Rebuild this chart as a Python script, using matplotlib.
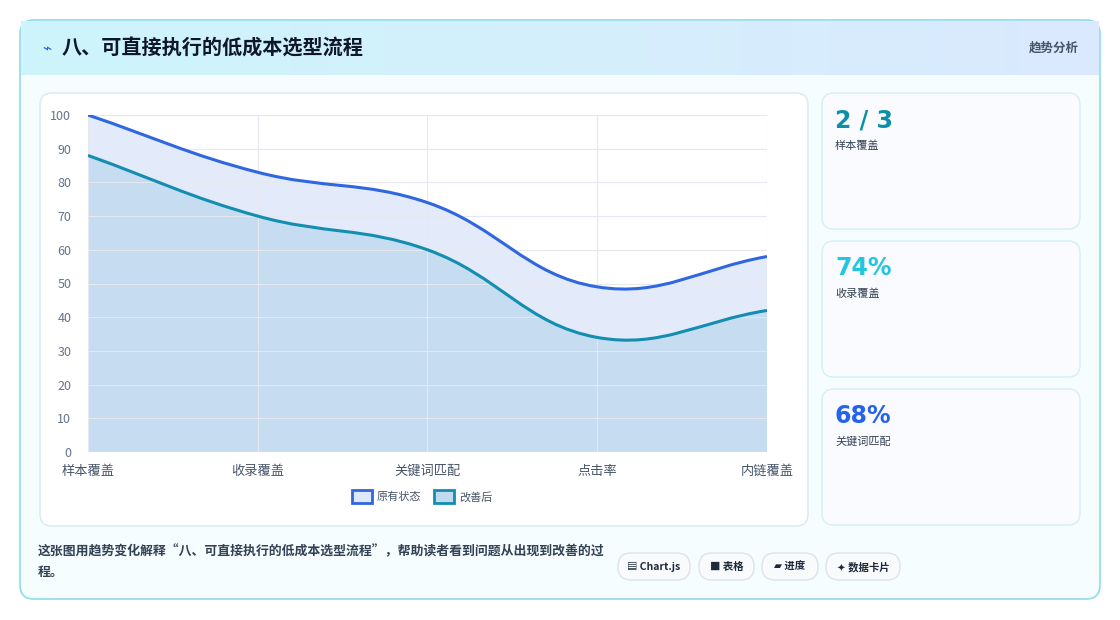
import numpy as np
import matplotlib

matplotlib.use("Agg")
import matplotlib.pyplot as plt
from matplotlib.patches import FancyBboxPatch, PathPatch, Rectangle
from matplotlib.path import Path
from matplotlib.colors import LinearSegmentedColormap

plt.rcParams["font.family"] = ["Noto Sans CJK SC", "DejaVu Sans"]

categories = ["样本覆盖", "收录覆盖", "关键词匹配", "点击率", "内链覆盖"]
before = [100, 83, 74, 49, 58]
after = [88, 70, 60, 34, 42]
card_values = ["2 / 3", "74%", "68%"]
card_labels = ["样本覆盖", "收录覆盖", "关键词匹配"]
card_colors = ["#0e8fa8", "#22c6e0", "#2563eb"]
tags = ["▤ Chart.js", "■ 表格", "▰ 进度", "✦ 数据卡片"]

W, H = 1120, 620
fig = plt.figure(figsize=(W / 100, H / 100), dpi=100)
bg = fig.add_axes([0, 0, 1, 1])
bg.set_xlim(0, W)
bg.set_ylim(H, 0)
bg.axis("off")


def rbox(x, y, w, h, r, fc, ec, lw=1, z=1):
    bg.add_patch(FancyBboxPatch((x, y), w, h, boxstyle=f"round,pad=0,rounding_size={r}",
                                fc=fc, ec=ec, lw=lw, zorder=z))


# outer panel with header gradient
rbox(20, 20, 1080, 579, 14, "#f6fdff", "#8fdcea", 1.2, 1)
grad = np.linspace(0, 1, 256)[None, :]
cm = LinearSegmentedColormap.from_list("h", ["#cdf5fb", "#dbe9fe"])
bg.imshow(grad, cmap=cm, extent=(21, 1099, 75, 21), aspect="auto", zorder=2)
bg.text(42, 49, "⌁", color="#2563eb", fontsize=11, va="center", zorder=3)
bg.text(62, 48, "八、可直接执行的低成本选型流程", fontsize=14.5, fontweight="bold",
        color="#0f172a", va="center", zorder=3)
bg.text(1079, 48, "趋势分析", fontsize=9, color="#475569", ha="right", va="center",
        fontweight="bold", zorder=3)

# chart card
rbox(40, 93, 768, 433, 12, "white", "#dbe7f0", 1, 2)
# stat cards
for i, (v, lab, c) in enumerate(zip(card_values, card_labels, card_colors)):
    y0 = 93 + i * 148
    rbox(822, y0, 258, 136, 12, "#fafbff", "#d6eef5", 1, 2)
    bg.text(835, y0 + 27, v, fontsize=17, fontweight="bold", color=c, va="center", zorder=3,
            family=["DejaVu Sans"])
    bg.text(835, y0 + 53, lab, fontsize=8, color="#334155", va="center", zorder=3)

# footer
bg.text(38, 551, "这张图用趋势变化解释“八、可直接执行的低成本选型流程”，帮助读者看到问题从出现到改善的过",
        fontsize=9.3, color="#334155", fontweight="bold", va="center", zorder=3)
bg.text(38, 572, "程。", fontsize=9.3, color="#334155", fontweight="bold", va="center", zorder=3)
xs = [618, 699, 762, 826]
ws = [72, 55, 56, 74]
for x, w, t in zip(xs, ws, tags):
    rbox(x, 553, w, 27, 13, "#f8fafc", "#dde3ea", 1, 2)
    bg.text(x + w / 2, 567, t, fontsize=7.5, ha="center", va="center", color="#1e293b",
            fontweight="bold", zorder=3)

# chart axes
ax = fig.add_axes([88 / W, 1 - 452 / H, 679 / W, 337 / H])
ax.set_zorder(5)
ax.patch.set_alpha(0)
ax.set_xlim(0, len(categories) - 1)
ax.set_ylim(0, 100)
ax.set_yticks(range(0, 101, 10))
ax.set_xticks(range(len(categories)))
ax.set_xticklabels(categories, fontsize=9.5, color="#475569")
ax.tick_params(axis="y", labelsize=9, colors="#64748b", length=0, pad=12)
ax.tick_params(axis="x", length=0, pad=9)
ax.grid(True, color="#e5e9ef", lw=0.8)
for s in ax.spines.values():
    s.set_visible(False)
ax.axhline(0, color="#cbd5e1", lw=0.8)


def smooth_path(ys, t=0.4):
    xs_ = np.arange(len(ys), dtype=float)
    sx = 1.0 / (len(ys) - 1)
    sy = 1.0 / 100 * 337 / 679
    pts = np.column_stack([xs_, np.array(ys, float)])
    n = len(pts)
    cps = []
    for i in range(n):
        p = pts[i]
        pp = pts[max(i - 1, 0)]
        pn = pts[min(i + 1, n - 1)]
        d01 = np.hypot((p[0] - pp[0]) * sx, (p[1] - pp[1]) * sy)
        d12 = np.hypot((pn[0] - p[0]) * sx, (pn[1] - p[1]) * sy)
        tot = d01 + d12 if d01 + d12 > 0 else 1
        fa = t * d01 / tot
        fb = t * d12 / tot
        cps.append((p - fa * (pn - pp), p + fb * (pn - pp)))
    verts = [pts[0]]
    codes = [Path.MOVETO]
    for i in range(n - 1):
        verts += [cps[i][1], cps[i + 1][0], pts[i + 1]]
        codes += [Path.CURVE4] * 3
    return verts, codes


for ys, line_c, fill_c in [(before, "#2f67e0", "#dfe8fb"), (after, "#138db0", "#c1daf0")]:
    v, c = smooth_path(ys)
    fv = v + [(len(ys) - 1, 0), (0, 0), v[0]]
    fcodes = c + [Path.LINETO, Path.LINETO, Path.CLOSEPOLY]
    ax.add_patch(PathPatch(Path(fv, fcodes), fc=fill_c, ec="none", alpha=0.85, zorder=1))
    ax.add_patch(PathPatch(Path(v, c), fc="none", ec=line_c, lw=2.2, zorder=3))

# legend
for x, lab, ec, fc in [(352, "原有状态", "#2f67e0", "#dfe8fb"), (434, "改善后", "#138db0", "#c1daf0")]:
    bg.add_patch(Rectangle((x, 490), 20, 13, fc=fc, ec=ec, lw=2, zorder=3))
    bg.text(x + 25, 497, lab, fontsize=8, color="#475569", va="center", zorder=3)

fig.savefig("out.png", dpi=100)
